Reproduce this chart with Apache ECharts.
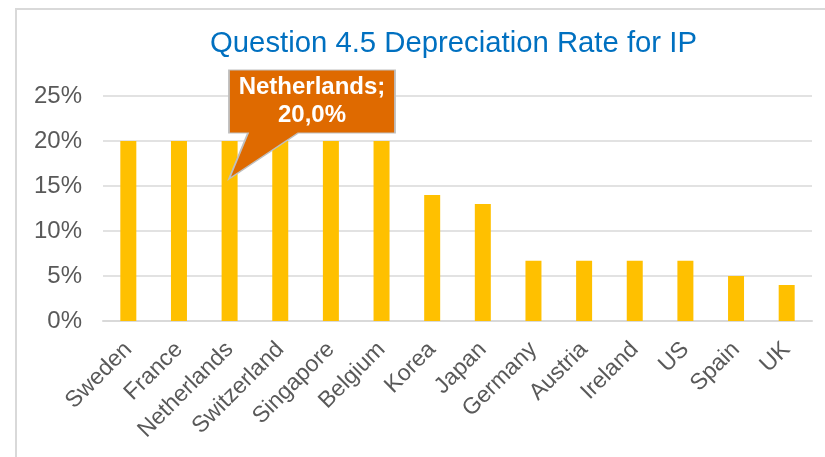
<!DOCTYPE html>
<html>
<head>
<meta charset="utf-8">
<script src="https://cdn.jsdelivr.net/npm/echarts@6/dist/echarts.min.js"></script>
<style>
html,body{margin:0;padding:0;background:#fff;}
#chart{width:825px;height:457px;}
</style>
</head>
<body>
<div id="chart"></div>
<script>
const categories = ['Sweden','France','Netherlands','Switzerland','Singapore','Belgium','Korea','Japan','Germany','Austria','Ireland','US','Spain','UK'];
const values = [20, 20, 20, 20, 20, 20, 14, 13, 6.7, 6.7, 6.7, 6.7, 5, 4];
const yTicks = [0, 5, 10, 15, 20, 25];
const calloutCategory = 'Netherlands';

const FONT = '"Liberation Sans", Arial, sans-serif';
const calloutIdx = categories.indexOf(calloutCategory);
const calloutValue = values[calloutIdx];
const calloutText = calloutCategory + ';\n' + calloutValue.toFixed(1).replace('.', ',') + '%';

const chart = echarts.init(document.getElementById('chart'));
chart.setOption({
  animation: false,
  backgroundColor: '#ffffff',
  graphic: [{
    type: 'rect',
    shape: {x: 16, y: 9, width: 1200, height: 1000},
    style: {fill: 'none', stroke: '#D9D9D9', lineWidth: 2},
    silent: true,
    z: -10
  }],
  title: {
    text: 'Question 4.5 Depreciation Rate for IP',
    left: 210,
    top: 29,
    padding: 0,
    textStyle: {fontFamily: FONT, fontSize: 29.3, fontWeight: 'normal', color: '#0070C0'}
  },
  grid: {left: 103, right: 13, top: 96, bottom: 136, containLabel: false},
  xAxis: {
    type: 'category',
    data: categories,
    axisTick: {show: false},
    axisLine: {lineStyle: {color: '#D9D9D9', width: 2}},
    axisLabel: {interval: 0, rotate: 45, margin: 25, fontFamily: FONT, fontSize: 23, color: '#595959'}
  },
  yAxis: {
    type: 'value',
    min: yTicks[0],
    max: yTicks[yTicks.length - 1],
    interval: yTicks[1] - yTicks[0],
    axisLine: {show: false},
    axisTick: {show: false},
    splitLine: {lineStyle: {color: '#D9D9D9', width: 1.5}},
    axisLabel: {margin: 21, formatter: '{value}%', fontFamily: FONT, fontSize: 24, color: '#595959'}
  },
  series: [{
    type: 'bar',
    data: values,
    barWidth: 16,
    itemStyle: {color: '#FFC000'},
    emphasis: {disabled: true},
    markPoint: {
      silent: true,
      animation: false,
      data: [{
        coord: [calloutCategory, calloutValue],
        symbol: 'path://M229 70 L395 70 L395 133 L298 133 L229 179 L248 133 L229 133 Z',
        symbolSize: [166, 109],
        symbolKeepAspect: false,
        symbolOffset: [82.4, -16.5],
        itemStyle: {color: '#DF6A00', borderColor: '#BFBFBF', borderWidth: 1.5},
        label: {
          show: true,
          position: 'inside',
          offset: [0, -23],
          formatter: calloutText,
          color: '#ffffff',
          fontFamily: FONT,
          fontSize: 24,
          fontWeight: 'bold',
          lineHeight: 28,
          align: 'center'
        }
      }]
    }
  }]
});
</script>
</body>
</html>
